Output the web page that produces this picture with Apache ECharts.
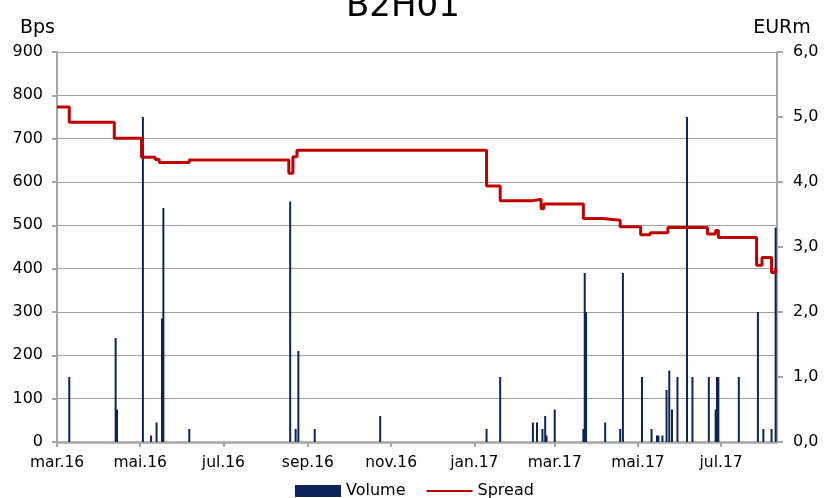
<!DOCTYPE html>
<html>
<head>
<meta charset="utf-8">
<script src="https://cdn.jsdelivr.net/npm/echarts@6/dist/echarts.min.js"></script>
<style>
  html, body { margin: 0; padding: 0; background: #fff; }
  #chart { width: 825px; height: 498px; }
</style>
</head>
<body>
<div id="chart"></div>
<script>
// x axis ticks every two months
const tickDates = ['2016-03-01', '2016-05-01', '2016-07-01', '2016-09-01', '2016-11-01',
                   '2017-01-01', '2017-03-01', '2017-05-01', '2017-07-01']
const tickLabels = ['mar.16', 'mai.16', 'jul.16', 'sep.16', 'nov.16',
                    'jan.17', 'mar.17', 'mai.17', 'jul.17']
const xStart = '2016-03-01'
const xEnd = '2017-08-11'

// traded volume, EURm (right axis)
const volumeDates = ['2016-03-10', '2016-04-13', '2016-04-14', '2016-05-03', '2016-05-09', '2016-05-13',
                     '2016-05-17', '2016-05-18', '2016-06-06', '2016-08-19', '2016-08-23', '2016-08-25',
                     '2016-09-06', '2016-10-24', '2017-01-10', '2017-01-20', '2017-02-13', '2017-02-16',
                     '2017-02-20', '2017-02-22', '2017-02-23', '2017-03-01', '2017-03-22', '2017-03-23',
                     '2017-03-24', '2017-04-07', '2017-04-18', '2017-04-20', '2017-05-04', '2017-05-11',
                     '2017-05-15', '2017-05-16', '2017-05-19', '2017-05-22', '2017-05-24', '2017-05-26',
                     '2017-05-30', '2017-06-06', '2017-06-10', '2017-06-22', '2017-06-27', '2017-06-28',
                     '2017-06-29', '2017-07-14', '2017-07-28', '2017-08-01', '2017-08-07', '2017-08-10']
const volumeValues = [1.0, 1.6, 0.5, 5.0, 0.1, 0.3,
                      1.9, 3.6, 0.2, 3.7, 0.2, 1.4,
                      0.2, 0.4, 0.2, 1.0, 0.3, 0.3,
                      0.2, 0.4, 0.1, 0.5, 0.2, 2.6,
                      2.0, 0.3, 0.2, 2.6, 1.0, 0.2,
                      0.1, 0.1, 0.1, 0.8, 1.1, 0.5,
                      1.0, 5.0, 1.0, 1.0, 0.5, 1.0,
                      1.0, 1.0, 2.0, 0.2, 0.2, 3.3]

// spread, bps (left axis) - each value holds from its date on
const spreadDates = ['2016-03-01', '2016-03-10', '2016-04-12', '2016-05-02', '2016-05-12', '2016-05-15',
                     '2016-06-06', '2016-08-18', '2016-08-21', '2016-08-24', '2017-01-10', '2017-01-20',
                     '2017-02-13', '2017-02-19', '2017-02-21', '2017-03-22', '2017-04-05', '2017-04-18',
                     '2017-05-03', '2017-05-10', '2017-05-23', '2017-06-21', '2017-06-27', '2017-06-29',
                     '2017-07-27', '2017-07-31', '2017-08-07', '2017-08-10']
const spreadValues = [773, 738, 701, 657, 652, 645,
                      651, 620, 658, 673, 591, 557,
                      560, 538, 549, 516, 512, 497,
                      478, 483, 495, 480, 488, 472,
                      408, 426, 391, 401]

// days since xStart (the x axis is a plain value axis counted in days)
function dayOf(s) {
    const p = s.split('-')
    const q = xStart.split('-')
    const a = Date.UTC(+p[0], +p[1] - 1, +p[2])
    const b = Date.UTC(+q[0], +q[1] - 1, +q[2])
    return Math.round((a - b) / 86400000)
}

const tickDays = tickDates.map(dayOf)
const axisGrey = '#a6a6a6'
const fontFam = 'DejaVu Sans'

let chart = echarts.init(document.getElementById('chart'), null, { renderer: 'canvas' })

let options = {
    animation: false,
    title: {
        text: 'B2H01',
        left: 341,
        top: -15,
        textStyle: {
            fontFamily: fontFam,
            fontSize: 34,
            fontWeight: 'normal',
            color: '#000'
        }
    },
    legend: {
        left: 290,
        top: 478,
        itemWidth: 46,
        itemHeight: 12,
        itemGap: 20,
        textStyle: {
            fontFamily: fontFam,
            fontSize: 16,
            color: '#000'
        },
        data: [
            { name: 'Volume', icon: 'rect' },
            // hide the marker dot, keep only the line
            { name: 'Spread', itemStyle: { opacity: 0 } }
        ]
    },
    grid: {
        left: 57,
        right: 48,
        top: 52,
        bottom: 56,
        containLabel: false
    },
    xAxis: {
        type: 'value',
        min: 0,
        max: dayOf(xEnd),
        axisLine: {
            lineStyle: { color: axisGrey, width: 2.5 }
        },
        axisTick: {
            show: true,
            length: 5,
            customValues: tickDays,
            lineStyle: { color: axisGrey, width: 2 }
        },
        axisLabel: {
            customValues: tickDays,
            margin: 13,
            fontFamily: fontFam,
            fontSize: 15.5,
            color: '#000',
            formatter: (value) => {
                const i = tickDays.indexOf(value)
                return i >= 0 ? tickLabels[i] : ''
            }
        },
        splitLine: { show: false }
    },
    yAxis: [
        {
            type: 'value',
            min: 0,
            max: 900,
            interval: 100,
            name: 'Bps',
            nameLocation: 'end',
            nameGap: 14,
            nameTextStyle: {
                fontFamily: fontFam,
                fontSize: 19,
                color: '#000',
                align: 'right',
                padding: [0, 2, 0, 0]
            },
            axisLine: {
                show: true,
                lineStyle: { color: axisGrey, width: 2 }
            },
            axisTick: {
                show: true,
                length: 5,
                lineStyle: { color: axisGrey, width: 2 }
            },
            axisLabel: {
                margin: 14,
                fontFamily: fontFam,
                fontSize: 16,
                color: '#000'
            },
            splitLine: {
                lineStyle: { color: '#a0a0a0', width: 1 }
            }
        },
        {
            type: 'value',
            min: 0,
            max: 6,
            interval: 1,
            position: 'right',
            name: 'EURm',
            nameLocation: 'end',
            nameGap: 14,
            nameTextStyle: {
                fontFamily: fontFam,
                fontSize: 19,
                color: '#000',
                align: 'center',
                padding: [0, 0, 0, 10]
            },
            axisLine: {
                show: true,
                lineStyle: { color: axisGrey, width: 2 }
            },
            axisTick: {
                show: true,
                length: 6,
                lineStyle: { color: axisGrey, width: 2 }
            },
            axisLabel: {
                margin: 16,
                fontFamily: fontFam,
                fontSize: 16,
                color: '#000',
                formatter: (v) => v.toFixed(1).replace('.', ',')
            },
            splitLine: { show: false }
        }
    ],
    series: [
        {
            name: 'Volume',
            type: 'bar',
            yAxisIndex: 1,
            barWidth: 2,
            itemStyle: { color: '#0b2558' },
            data: volumeDates.map((d, i) => [dayOf(d), volumeValues[i]])
        },
        {
            name: 'Spread',
            type: 'line',
            yAxisIndex: 0,
            step: 'end',
            symbol: 'none',
            z: 3,
            lineStyle: { color: '#c00000', width: 3 },
            itemStyle: { color: '#c00000' },
            data: spreadDates.map((d, i) => [dayOf(d), spreadValues[i]])
        }
    ]
}

chart.setOption(options)
</script>
</body>
</html>
